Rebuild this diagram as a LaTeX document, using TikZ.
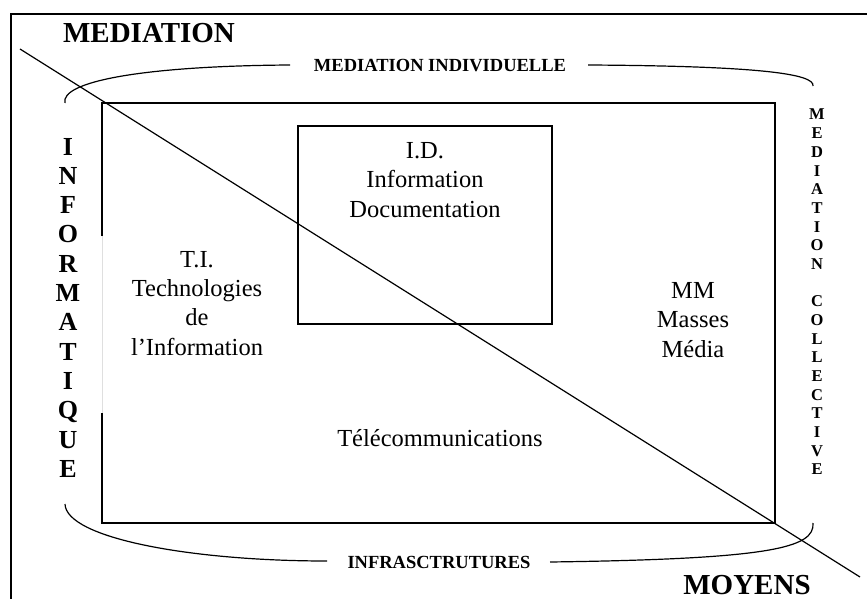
\documentclass[tikz,border=0pt]{standalone}
\usepackage{fontspec}
\setmainfont{Liberation Serif}
\begin{document}
\begin{tikzpicture}[x=1pt,y=-1pt,
  bigtitle/.style={font=\fontsize{29}{33}\selectfont\bfseries, inner sep=0pt, text depth=0pt, anchor=base},
  bracelbl/.style={font=\fontsize{18.5}{22}\selectfont\bfseries, inner sep=0pt, anchor=base},
  bodytxt/.style={font=\fontsize{24.5}{29.3}\selectfont, align=center, inner sep=0pt, anchor=base},
  vleft/.style={font=\fontsize{26}{28}\selectfont\bfseries, inner sep=0pt, anchor=base},
  vright/.style={font=\fontsize{16.5}{19}\selectfont\bfseries, inner sep=0pt, anchor=base},
  frame/.style={line width=2pt},
  boxline/.style={line width=1.3pt},
  thin/.style={line width=1.2pt}]
\useasboundingbox (0,0) rectangle (867,599);
% outer frame
\draw[frame] (11,602) -- (11,14) -- (870,14);
% titles
\node[bigtitle] (med) at (149,43) {MEDIATION};
\node[bigtitle] (moy) at (747,594) {MOYENS};
% braces labels
\node[bracelbl] (indiv) at (440,72) {MEDIATION INDIVIDUELLE};
\node[bracelbl] (infra) at (439,568) {INFRASCTRUTURES};
% top brace
\draw[thin] (65,103) .. controls (60,82) and (140,66) .. (290,65);
\draw[thin] (588,65) .. controls (760,66) and (815,74) .. (813,86);
% bottom brace
\draw[thin] (65,504) .. controls (66,538) and (190,561) .. (327,561);
\draw[thin] (550,562) .. controls (770,559) and (815,548) .. (813,523);
% main rectangle
\draw[boxline] (102,236) -- (102,103) -- (775,103) -- (775,523) -- (102,523) -- (102,413);
\draw[line width=0.8pt, gray!25] (102,236) -- (102,413);
% I.D. box
\draw[boxline] (298,126) rectangle (552,324);
% diagonal
\draw[thin] (20,49) -- (860,577);
% body texts (base anchor = last line baseline)
\node[bodytxt] (id) at (425,217) {I.D.\\Information\\Documentation};
\node[bodytxt] (ti) at (197,355) {T.I.\\Technologies\\de\\l’Information};
\node[bodytxt] (mm) at (693,357) {MM\\Masses\\Média};
\node[bodytxt] (tele) at (440,446) {Télécommunications};
% vertical INFORMATIQUE
\foreach \l [count=\i from 0] in {I,N,F,O,R,M,A,T,I,Q,U,E}
  \node[vleft] (inf\i) at (68,155+29.3*\i) {\l};
% vertical MEDIATION COLLECTIVE
\foreach \l [count=\i from 0] in {M,E,D,I,A,T,I,O,N,{},C,O,L,L,E,C,T,I,V,E}
  \node[vright] (col\i) at (817,120+18.67*\i) {\l};
\end{tikzpicture}
\end{document}
